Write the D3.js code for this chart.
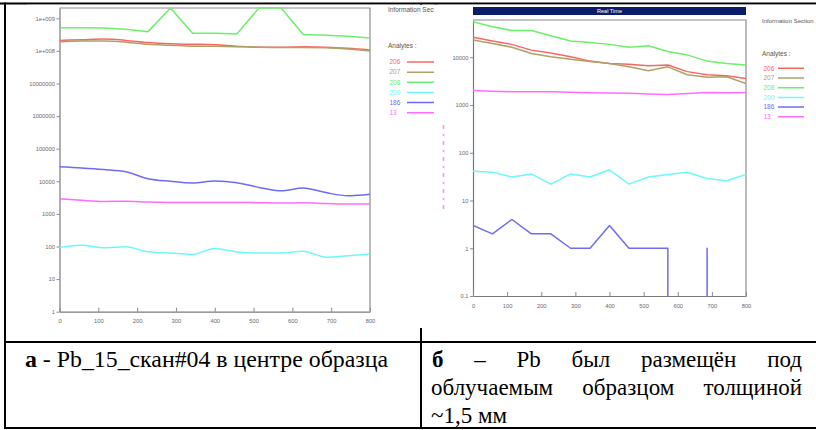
<!DOCTYPE html>
<html>
<head>
<meta charset="utf-8">
<script src="https://cdn.jsdelivr.net/npm/d3@7"></script>
<style>
  html, body { margin: 0; padding: 0; background: #fff; }
  svg { display: block; }
  .cap { font-family: "Liberation Serif", "DejaVu Serif", "Times New Roman", serif; }
</style>
</head>
<body>
<svg id="fig" width="816" height="430"></svg>
<script>
// ---- data ---------------------------------------------------------------
// acquisition times, s (same sampling for both scans)
const times = [0, 57, 114, 171, 228, 286, 343, 400, 457, 514, 571, 628, 686, 743, 800];

const analytes = ["206", "207", "208", "200", "186", "13"];
const analyteColors = ["#ff6464", "#aea266", "#6cef6c", "#6cf9f9", "#6c6cf6", "#ff6cff"];

// scan а: Pb_15, scan #04, centre of the sample (counts)
const scanA_206 = [2.1e8, 2.2e8, 2.3e8, 2.1e8, 1.8e8, 1.65e8, 1.6e8, 1.55e8, 1.4e8, 1.3e8, 1.3e8, 1.35e8, 1.3e8, 1.2e8, 1.07e8];
const scanA_207 = [1.9e8, 2.0e8, 2.0e8, 1.85e8, 1.6e8, 1.5e8, 1.4e8, 1.38e8, 1.35e8, 1.3e8, 1.28e8, 1.28e8, 1.25e8, 1.15e8, 1.0e8];
const scanA_208 = [5.1e8, 5.1e8, 5.0e8, 4.6e8, 3.9e8, 4e9, 3.5e8, 3.5e8, 3.3e8, 4e9, 4e9, 3.2e8, 3.0e8, 2.8e8, 2.5e8];
const scanA_200 = [95, 110, 91, 98, 69, 63, 58, 87, 68, 63, 63, 72, 47, 52, 59];
const scanA_186 = [28000, 25700, 22900, 19500, 12000, 10000, 8900, 10200, 9100, 6500, 5100, 6200, 4500, 3600, 4000];
const scanA_13  = [2900, 2600, 2400, 2450, 2300, 2250, 2250, 2250, 2250, 2200, 2150, 2200, 2100, 2000, 2000];

// scan б: Pb under the irradiated sample, ~1.5 mm thick (counts, 0 = nothing registered)
const scanB_206 = [26300, 21900, 18600, 14100, 12300, 10200, 8300, 7400, 7100, 6600, 6900, 5000, 4300, 4100, 3600];
const scanB_207 = [22900, 19500, 16200, 12000, 10200, 9100, 8100, 7400, 6300, 5200, 6300, 4300, 3800, 3900, 2800];
const scanB_208 = [55700, 43600, 36300, 36300, 28200, 21900, 20400, 18600, 16200, 17400, 13200, 11200, 8300, 7400, 6900];
const scanB_200 = [41, 39, 31, 36, 22, 36, 31, 44, 22, 31, 35, 39, 29, 26, 35];
const scanB_186 = [3, 2, 4, 2, 2, 1, 1, 3, 1, 1, 1, 0, 1, 0, 0];
const scanB_13  = [2000, 1950, 1900, 1900, 1900, 1850, 1800, 1780, 1760, 1700, 1650, 1750, 1820, 1800, 1820];

const xTickValues = [0, 100, 200, 300, 400, 500, 600, 700, 800];
const yTickValuesA = [1, 10, 100, 1e3, 1e4, 1e5, 1e6, 1e7, 1e8, 1e9];
const yTickLabelsA = ["1", "10", "100", "1000", "10000", "100000", "1000000", "10000000", "1e+008", "1e+009"];
const yTickValuesB = [0.1, 1, 10, 100, 1e3, 1e4];
const yTickLabelsB = ["0.1", "1", "10", "100", "1000", "10000"];

const captionA = ["а", " - Pb_15_скан#04 в центре образца"];
const captionB = [
  ["б", "–", "Pb", "был", "размещён", "под"],
  ["облучаемым", "образцом", "толщиной"],
  ["~1,5 мм"]
];

// ---- drawing ------------------------------------------------------------
const svg = d3.select("#fig");
const defs = svg.append("defs");
const SANS = "'Liberation Sans', Arial, sans-serif";

// table rules
const rules = svg.append("g").attr("stroke", "#000").attr("stroke-width", 2);
rules.append("line").attr("x1", 0).attr("x2", 816).attr("y1", 3.5).attr("y2", 3.5);
rules.append("line").attr("x1", 5).attr("x2", 5).attr("y1", 2.5).attr("y2", 429);
rules.append("line").attr("x1", 4).attr("x2", 816).attr("y1", 342).attr("y2", 342);
rules.append("line").attr("x1", 4).attr("x2", 816).attr("y1", 428).attr("y2", 428);
rules.append("line").attr("x1", 421).attr("x2", 421).attr("y1", 3).attr("y2", 429);

function styleAxis(g) {
  g.selectAll(".domain").attr("stroke", "#7a7a7a").attr("stroke-width", 1.2);
  g.selectAll(".tick line").attr("stroke", "#8a8a8a");
  g.selectAll(".tick text").attr("fill", "#6a6a6a").attr("font-family", SANS).attr("font-size", 5.8);
}

function drawPanel(cfg) {
  const g = svg.append("g");
  defs.append("clipPath").attr("id", cfg.id + "-img")
    .append("rect").attr("x", cfg.img[0]).attr("y", cfg.img[1])
    .attr("width", cfg.img[2]).attr("height", cfg.img[3]);
  defs.append("clipPath").attr("id", cfg.id + "-plot")
    .append("rect").attr("x", cfg.plot.x0).attr("y", cfg.plot.y0 - 1)
    .attr("width", cfg.plot.x1 - cfg.plot.x0).attr("height", cfg.plot.y1 - cfg.plot.y0 + 1);

  const img = g.append("g").attr("clip-path", `url(#${cfg.id}-img)`);
  img.append("rect").attr("x", cfg.img[0]).attr("y", cfg.img[1])
    .attr("width", cfg.img[2]).attr("height", cfg.img[3]).attr("fill", "#fff");

  const x = d3.scaleLinear().domain([0, 800]).range([cfg.plot.x0, cfg.plot.x1]);
  const y = d3.scaleLog().domain(cfg.yDomain).range([cfg.plot.y1, cfg.plot.y0]).clamp(true);

  // plot frame (top / right)
  img.append("path")
    .attr("d", `M${cfg.plot.x0},${cfg.plot.y0}H${cfg.plot.x1}V${cfg.plot.y1}`)
    .attr("fill", "none").attr("stroke", "#8c8c8c").attr("stroke-width", 1.2);

  // axes
  const ya = img.append("g").attr("transform", `translate(${cfg.plot.x0},0)`)
    .call(d3.axisLeft(y).tickValues(cfg.yTicks).tickFormat((d, i) => cfg.yLabels[i])
      .tickSizeInner(3).tickSizeOuter(0).tickPadding(1.5));
  styleAxis(ya);
  const xa = img.append("g").attr("transform", `translate(0,${cfg.plot.y1})`)
    .call(d3.axisBottom(x).tickValues(xTickValues).tickFormat(d => String(d))
      .tickSizeInner(-4).tickSizeOuter(0).tickPadding(cfg.xPad));
  styleAxis(xa);

  // series
  const lines = img.append("g").attr("clip-path", `url(#${cfg.id}-plot)`)
    .attr("fill", "none").attr("stroke-width", 1.5).attr("stroke-linejoin", "round");
  cfg.series.forEach((vals, k) => {
    const p = d3.path();
    if (cfg.zeroDrops) {
      // zero readings fall straight to the axis floor
      const yFloor = cfg.plot.y1 + 2;
      let pen = false;
      vals.forEach((v, i) => {
        const xi = x(times[i]);
        if (v > 0) {
          if (!pen) { p.moveTo(xi, i > 0 ? yFloor : y(v)); if (i > 0) p.lineTo(xi, y(v)); pen = true; }
          else p.lineTo(xi, y(v));
        } else if (pen) {
          p.lineTo(x(times[i - 1]), yFloor);
          pen = false;
        }
      });
      lines.append("path").attr("d", p.toString()).attr("stroke", analyteColors[k]);
    } else {
      const curve = (cfg.curves && cfg.curves[k]) || d3.curveLinear;
      const line = d3.line().x((d, i) => x(times[i])).y(d => y(d)).curve(curve);
      lines.append("path").attr("d", line(vals)).attr("stroke", analyteColors[k]);
    }
  });

  // legend
  const lg = img.append("g").attr("font-family", SANS);
  lg.append("text").attr("x", cfg.legend.x).attr("y", cfg.legend.infoY).attr("dy", "0.35em")
    .attr("font-size", cfg.legend.infoSize).attr("fill", "#555").text("Information Section");
  lg.append("text").attr("x", cfg.legend.x).attr("y", cfg.legend.anY).attr("dy", "0.35em")
    .attr("font-size", 6.5).attr("fill", "#555").text("Analytes :");
  analytes.forEach((a, i) => {
    const yy = cfg.legend.y0 + i * cfg.legend.dy;
    lg.append("text").attr("x", cfg.legend.x + 1.5).attr("y", yy).attr("dy", "0.35em")
      .attr("font-size", 6.5).attr("fill", analyteColors[i]).text(a);
    lg.append("line").attr("x1", cfg.legend.l0).attr("x2", cfg.legend.l1)
      .attr("y1", yy).attr("y2", yy).attr("stroke", analyteColors[i]).attr("stroke-width", 1.5);
  });
  return { g: img, x, y };
}

// panel а
const smooth = d3.curveMonotoneX;
const pA = drawPanel({
  id: "a", img: [27, 4.5, 407, 323.5],
  plot: { x0: 59.5, x1: 370, y0: 8, y1: 311.7 },
  yDomain: [1, Math.pow(10, 9.316)],
  yTicks: yTickValuesA, yLabels: yTickLabelsA, xPad: 7.5,
  series: [scanA_206, scanA_207, scanA_208, scanA_200, scanA_186, scanA_13],
  curves: [smooth, smooth, d3.curveLinear, smooth, smooth, smooth],
  legend: { x: 388, infoY: 9.5, infoSize: 6.5, anY: 46, y0: 62, dy: 10.15, l0: 407, l1: 440 }
});
pA.g.append("line").attr("x1", 27).attr("x2", 370).attr("y1", 3.2).attr("y2", 3.2)
  .attr("stroke", "#3a3d5c").attr("stroke-width", 1);

// panel б
const pB = drawPanel({
  id: "b", img: [438, 4.5, 378, 310],
  plot: { x0: 473, x1: 746, y0: 20, y1: 296 },
  yDomain: [0.1, Math.pow(10, 4.78)],
  yTicks: yTickValuesB, yLabels: yTickLabelsB, xPad: 7.5,
  series: [scanB_206, scanB_207, scanB_208, scanB_200, scanB_186, scanB_13],
  zeroDrops: true,
  legend: { x: 762, infoY: 20.7, infoSize: 6, anY: 53.3, y0: 68.3, dy: 9.7, l0: 778, l1: 804 }
});
// "Real Time" title bar
pB.g.append("rect").attr("x", 473).attr("y", 7).attr("width", 273).attr("height", 8).attr("fill", "#0b1c68");
pB.g.append("text").attr("x", 609.5).attr("y", 11).attr("dy", "0.35em").attr("text-anchor", "middle")
  .attr("font-family", SANS).attr("font-size", 5.6).attr("fill", "#fff").text("Real Time");
// faint pink marker column at the left of panel б
pB.g.append("line").attr("x1", 443.5).attr("x2", 443.5).attr("y1", 125).attr("y2", 212)
  .attr("stroke", "#ff7cff").attr("stroke-width", 1.6).attr("stroke-dasharray", "4,5,2,5").attr("opacity", 0.85);

// captions
const capFont = 23;
const capA = svg.append("text").attr("class", "cap").attr("x", 25).attr("y", 367)
  .attr("font-size", capFont).attr("fill", "#000");
capA.append("tspan").attr("font-weight", "bold").text(captionA[0]);
capA.append("tspan").text(captionA[1]);
capA.attr("textLength", 363).attr("lengthAdjust", "spacingAndGlyphs");

function justifyLine(words, yy, x0, x1, boldFirst, lastLine) {
  const nodes = words.map((w, i) => svg.append("text").attr("class", "cap").attr("y", yy)
    .attr("font-size", capFont).attr("fill", "#000")
    .attr("font-weight", boldFirst && i === 0 ? "bold" : "normal").text(w));
  const widths = nodes.map(n => n.node().getComputedTextLength());
  const gap = (lastLine || words.length < 2) ? 0 : (x1 - x0 - d3.sum(widths)) / (words.length - 1);
  let xx = x0;
  nodes.forEach((n, i) => { n.attr("x", xx); xx += widths[i] + gap; });
}
justifyLine(captionB[0], 367, 432, 802, true, false);
justifyLine(captionB[1], 395, 431, 802, false, false);
justifyLine(captionB[2], 423, 431, 802, false, true);
</script>
</body>
</html>
